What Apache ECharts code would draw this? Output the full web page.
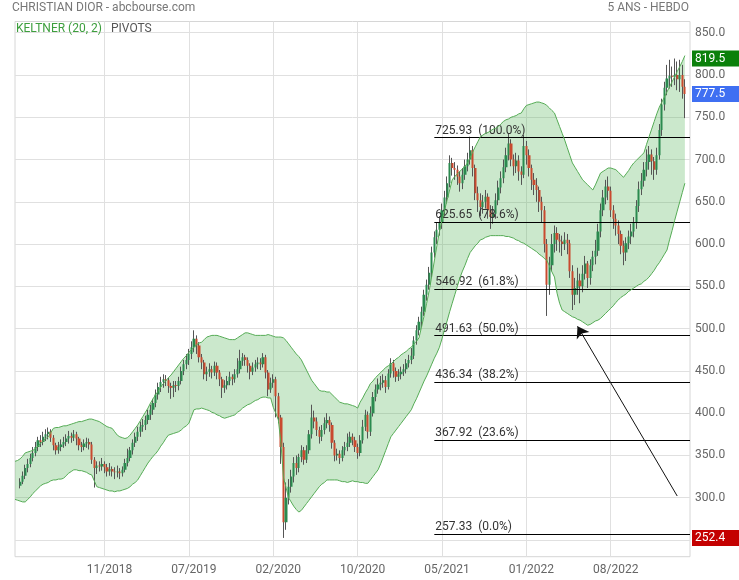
<!DOCTYPE html>
<html><head><meta charset="utf-8">
<script src="https://cdn.jsdelivr.net/npm/echarts@6/dist/echarts.min.js"></script>
<style>html,body{margin:0;padding:0;background:#fff}#c{width:739px;height:580px}</style>
</head><body><div id="c"></div>
<script>
// ---------------- DATA ----------------
const FIRST_WEEK = '2018-03-12';      // first category (two leading weeks before the first candle)
const CATEGORY_COUNT = 265;
const CANDLE_OFFSET = 2;
const xLabelCats = [35, 68, 101, 134, 167, 200, 233];

// weekly candles [open, close, low, high]
const candles = [
[314,319,311,323],[319,326,316,331],[326,335,322,339],[335,340,330,346],[340,347,336,352],[347,353,343,360],[353,360,349,366],[360,368,355,372],[368,366,360,374],[366,372,362,378],
[372,375,367,381],[375,378,369,383],[378,371,366,381],[371,362,356,374],[362,356,351,365],[356,360,352,366],[360,363,355,369],[363,366,359,372],[366,370,361,375],[370,373,364,379],
[373,371,365,377],[371,375,367,380],[375,370,362,378],[370,362,356,372],[362,360,354,366],[360,364,356,369],[364,366,359,371],[366,363,357,370],[363,345,340,366],[345,335,312,348],
[335,338,328,343],[338,337,331,343],[337,340,332,347],[340,336,329,343],[336,331,325,340],[331,334,326,341],[334,331,325,337],[331,330,322,336],[330,331,324,338],[331,329,322,335],
[329,333,325,337],[333,341,330,346],[341,347,337,358],[347,356,343,360],[356,365,351,369],[365,372,360,377],[372,378,367,384],[378,384,372,390],[384,386,378,393],[386,392,380,397],
[392,398,387,404],[398,404,392,410],[404,412,398,417],[412,422,407,428],[422,431,416,436],[431,437,425,443],[437,440,430,446],[440,439,432,445],[439,432,424,442],[432,430,417,436],
[430,433,419,438],[433,432,425,438],[432,438,427,443],[438,450,434,455],[450,458,445,463],[458,463,452,470],[463,470,457,476],[470,478,464,485],[478,488,472,498],[488,480,470,492],
[480,466,460,484],[466,460,452,470],[460,446,440,463],[446,449,438,455],[449,452,443,459],[452,448,441,456],[448,456,444,461],[456,448,440,460],[448,440,432,451],[440,430,418,443],
[430,433,424,439],[433,438,428,444],[438,443,433,449],[443,440,433,446],[440,446,436,452],[446,452,442,465],[452,462,447,475],[462,466,456,471],[466,463,456,469],[463,456,448,466],
[456,449,440,459],[449,454,445,460],[454,458,449,463],[458,460,452,466],[460,458,451,465],[458,466,454,471],[466,448,441,469],[448,428,420,451],[428,436,424,442],[436,440,430,446],
[440,420,395,443],[420,395,388,424],[395,360,340,398],[360,271,252.4,365],[271,300,262,318],[300,313,292,322],[313,325,306,333],[325,341,318,348],[341,335,327,350],[335,348,330,352],
[348,356,342,362],[356,345,339,360],[345,356,341,362],[356,375,352,380],[375,395,370,410],[395,390,382,403],[390,380,373,395],[380,372,364,384],[372,380,367,386],[380,388,375,395],
[388,392,382,400],[392,386,378,396],[386,365,358,389],[365,350,343,368],[350,352,344,358],[352,347,340,356],[347,356,343,361],[356,360,350,366],[360,365,355,376],[365,372,360,378],
[372,368,362,376],[368,360,354,372],[360,353,346,364],[353,368,349,374],[368,384,364,392],[384,398,379,404],[398,378,370,402],[378,400,373,408],[400,419,396,425],[419,428,414,434],
[428,434,423,441],[434,436,427,444],[436,439,430,446],[439,431,424,444],[431,447,428,452],[447,459,442,465],[459,450,442,463],[450,443,437,454],[443,446,438,452],[446,449,440,455],
[449,452,444,458],[452,459,447,464],[459,463,454,469],[463,468,458,477],[468,486,464,491],[486,498,481,504],[498,508,492,514],[508,520,502,526],[520,540,515,546],[540,552,533,558],
[552,566,546,573],[566,590,561,597],[590,608,584,615],[608,617,600,626],[617,625,610,633],[625,640,618,648],[640,655,634,663],[655,672,648,680],[672,696,667,705],[696,690,681,702],
[690,688,676,697],[688,680,670,693],[680,672,662,686],[672,682,665,690],[682,692,676,700],[692,700,686,708],[700,711,694,727],[711,690,680,716],[690,660,652,694],[660,652,638,668],
[652,644,633,660],[644,650,636,658],[650,656,642,664],[656,640,630,660],[640,632,618,646],[632,636,624,645],[636,652,630,660],[652,667,646,675],[667,678,660,686],[678,691,672,700],
[691,705,685,714],[705,719,699,731],[719,700,692,724],[700,692,681,706],[692,699,684,708],[699,686,675,705],[686,682,670,692],[682,716,678,729],[716,705,694,722],[705,690,680,712],
[690,676,664,694],[676,670,658,684],[670,664,650,678],[664,650,638,668],[650,640,625,656],[640,600,590,645],[600,552,515,606],[552,575,540,585],[575,600,568,612],[600,613,590,622],
[613,605,592,620],[605,603,590,612],[603,600,586,610],[600,605,593,614],[605,601,588,612],[601,568,560,605],[568,540,522,575],[540,548,528,560],[548,557,540,572],[557,550,530,565],
[550,565,543,575],[565,577,558,586],[577,560,548,580],[560,575,552,582],[575,585,568,592],[585,592,576,605],[592,615,586,624],[615,640,608,648],[640,655,633,664],[655,668,647,676],
[668,663,652,680],[663,640,632,668],[640,630,618,646],[630,622,610,636],[622,612,600,628],[612,598,588,616],[598,590,575,604],[590,601,580,608],[601,609,594,616],[609,615,600,624],
[615,625,608,632],[625,645,618,652],[645,665,638,674],[665,675,658,684],[675,688,668,697],[688,697,680,712],[697,706,688,716],[706,698,682,712],[698,688,676,703],[688,705,682,714],
[705,735,700,742],[735,765,728,772],[765,785,758,792],[785,796,776,812],[796,799,784,818],[799,798,786,810],[798,800,788,819.5],[800,795,782,816],[795,800,780,818],[800,786,772,812],
[786,777.5,749,795]
];

// Keltner (20, 2) channel, one value per category from the first category
const keltnerUpper = [
343,344,346,349,353,354,355,356,358,361,
364,367,370,372,377,382,383,383,384,385,
385,386,387,388,389,390,390,391,392,393,
393,392,391,390,388,386,384,383,382,378,
374,372,371,370,371,374,378,382,386,391,
396,401,406,412,417,422,426,431,435,438,
442,445,449,453,457,461,465,468,472,475,
478,481,483,484,487,490,491,492,492,492,
491,490,489,488,487,487,487,489,491,493,
495,495,494,493,492,492,492,492,492,493,
492,491,490,490,490,489,486,482,478,474,
470,467,463,457,451,445,439,435,431,427,
426,426,425,425,422,419,416,413,412,411,
411,410,409,408,406,413,418,424,429,435,
438,442,445,448,451,454,456,458,461,464,
466,469,471,473,476,478,482,485,489,502,
515,530,545,562,580,598,615,628,640,652,
664,676,680,683,686,689,692,696,702,709,
715,721,727,729,731,732,734,736,737,739,
742,745,747,748,750,751,752,754,755,760,
764,765,766,767,768,768,767,766,764,761,
758,755,747,739,731,723,714,705,696,691,
686,681,676,673,670,667,664,670,677,684,
686,688,690,690,689,688,685,682,679,683,
687,692,696,699,702,705,708,718,727,736,
745,754,762,768,774,780,786,792,798,804,
810,816,823
];
const keltnerLower = [
298,297,296,295,295,298,301,305,308,311,
314,316,317,318,320,321,321,322,322,323,
326,329,331,333,333,332,332,331,330,328,
327,320,313,312,311,310,309,308,308,307,
308,308,309,310,311,313,316,318,321,326,
331,336,341,345,349,352,356,361,365,370,
374,375,376,377,378,380,383,385,388,396,
404,405,405,406,405,404,403,401,400,398,
397,395,394,395,396,397,398,401,403,406,
408,410,411,413,415,416,418,419,419,418,
418,407,400,392,365,324,312,300,295,290,
286,283,285,289,293,297,301,305,309,313,
316,318,321,321,321,321,321,320,319,319,
318,319,320,319,319,318,318,317,317,321,
325,329,333,340,348,356,364,372,376,380,
384,388,392,396,400,404,411,417,424,431,
438,444,451,458,465,471,478,488,499,509,
520,530,540,550,560,568,575,583,590,594,
598,601,605,606,608,609,610,610,610,610,
610,610,609,609,608,607,605,604,602,601,
599,597,595,593,591,588,586,583,581,574,
567,561,542,530,522,520,518,516,514,513,
511,510,508,506,504,505,507,509,510,512,
515,518,521,524,527,531,534,537,539,541,
544,546,548,550,552,553,556,558,561,565,
569,574,578,583,588,593,605,616,628,639,
650,661,672
];

// Fibonacci retracement levels
const fibLevels   = [725.93, 625.65, 546.92, 491.63, 436.34, 367.92, 257.33];
const fibPercents = ['100.0%', '78.6%', '61.8%', '50.0%', '38.2%', '23.6%', '0.0%'];
const FIB_START_CAT = 164;

// price tags on the right axis
const tagValues = [819.5, 777.5, 252.4];
const tagColors = ['#0b800b', '#3f6ff2', '#c40000'];

// arrow annotation [category, price]
const arrowFrom = [259, 302];
const arrowTo   = [220, 502.7];

// y axis ticks
const Y_TICK_MIN = 250, Y_TICK_MAX = 850, Y_TICK_STEP = 50;

// ---------------- BUILD ----------------
const categories = [];
const t0 = Date.parse(FIRST_WEEK + 'T00:00:00Z');
for (let i = 0; i < CATEGORY_COUNT; i++) {
  categories.push(new Date(t0 + i * 7 * 86400000).toISOString().slice(0, 10));
}
const candleData = candles.map((r, i) => [i + CANDLE_OFFSET, r[0], r[1], r[2], r[3]]);
const bandDiff = keltnerUpper.map((u, i) => +(u - keltnerLower[i]).toFixed(2));

const W = 739, H = 580;
const G = {left: 15, right: 49, top: 21.5, bottom: 23.3};
const DATA_MIN = 230.2, DATA_MAX = 863.3;
const plotH = H - G.top - G.bottom;
const pxPer = plotH / (DATA_MAX - DATA_MIN);
const g1Top = G.top + (DATA_MAX - Y_TICK_MAX) * pxPer;
const g1Bottom = G.bottom + (Y_TICK_MIN - DATA_MIN) * pxPer;

const showCat = (idx) => xLabelCats.indexOf(idx) >= 0;
const FONT = 'Roboto';
const GREEN_LINE = '#55ab55';

const option = {
  animation: false,
  textStyle: {fontFamily: FONT},
  title: [
    {text: 'CHRISTIAN DIOR - abcbourse.com', left: 12, top: 2, padding: 0,
     textStyle: {fontSize: 12, fontWeight: 'normal', color: '#777', fontFamily: FONT}},
    {text: '5 ANS - HEBDO', right: 50, top: 2, padding: 0,
     textStyle: {fontSize: 12, fontWeight: 'normal', color: '#777', fontFamily: FONT}},
    {text: 'KELTNER (20, 2)', left: 16, top: 23, padding: 0,
     textStyle: {fontSize: 12, fontWeight: 'normal', color: '#3d9e3d', fontFamily: FONT}},
    {text: 'PIVOTS', left: 111, top: 23, padding: 0,
     textStyle: {fontSize: 12, fontWeight: 'normal', color: '#555', fontFamily: FONT}}
  ],
  grid: [
    {left: G.left, right: G.right, top: G.top, bottom: G.bottom, show: true,
     borderColor: '#d6d6d6', borderWidth: 1, backgroundColor: 'transparent'},
    {left: G.left, right: G.right, top: g1Top, bottom: g1Bottom, show: false}
  ],
  xAxis: [
    {type: 'category', gridIndex: 0, data: categories, boundaryGap: false,
     axisLine: {show: false}, axisTick: {show: false},
     axisLabel: {interval: showCat,
       color: '#666', fontSize: 12, margin: 7, padding: [0, 0, 0, 10],
       formatter: v => v.slice(5, 7) + '/' + v.slice(0, 4)},
     splitLine: {show: true, interval: showCat, lineStyle: {color: '#e0e0e0', width: 1}}},
    {type: 'value', gridIndex: 1, show: false, min: 0, max: 1}
  ],
  yAxis: [
    {type: 'value', gridIndex: 0, min: DATA_MIN, max: DATA_MAX, show: false, splitLine: {show: false}},
    {type: 'value', gridIndex: 1, position: 'right', min: Y_TICK_MIN, max: Y_TICK_MAX, interval: Y_TICK_STEP,
     axisLine: {show: false}, axisTick: {show: false},
     axisLabel: {color: '#666', fontSize: 12, margin: 5, formatter: v => v.toFixed(1)},
     splitLine: {show: true, lineStyle: {color: '#e0e0e0', width: 1}}}
  ],
  series: [
    {name: 'kcBase', type: 'line', xAxisIndex: 0, yAxisIndex: 0, data: keltnerLower, stack: 'kc',
     symbol: 'none', silent: true, lineStyle: {width: 0, opacity: 0}, z: 1},
    {name: 'kcFill', type: 'line', xAxisIndex: 0, yAxisIndex: 0, data: bandDiff, stack: 'kc',
     symbol: 'none', silent: true, lineStyle: {width: 0, opacity: 0},
     areaStyle: {color: 'rgba(76,175,80,0.29)', opacity: 1}, z: 1},
    {name: 'wicks', type: 'candlestick', xAxisIndex: 0, yAxisIndex: 0, data: candleData,
     encode: {x: 0, y: [1, 2, 3, 4]}, barWidth: 1, silent: true,
     itemStyle: {color: '#555', color0: '#555', borderColor: '#555', borderColor0: '#555', borderWidth: 1}, z: 3},
    {name: 'bodies', type: 'candlestick', xAxisIndex: 0, yAxisIndex: 0, data: candleData,
     encode: {x: 0, y: [1, 2, 3, 4]}, barWidth: 2.7, silent: true,
     itemStyle: {color: '#2a8a4f', color0: '#c94a2f', borderColor: '#2a8a4f', borderColor0: '#c94a2f', borderWidth: 0}, z: 4},
    {name: 'kcUpper', type: 'line', xAxisIndex: 0, yAxisIndex: 0, data: keltnerUpper, symbol: 'none', silent: true,
     lineStyle: {color: GREEN_LINE, width: 1}, z: 5},
    {name: 'kcLower', type: 'line', xAxisIndex: 0, yAxisIndex: 0, data: keltnerLower, symbol: 'none', silent: true,
     lineStyle: {color: GREEN_LINE, width: 1}, z: 5},
    {name: 'fib', type: 'line', xAxisIndex: 0, yAxisIndex: 0, data: [], clip: false, z: 6,
     markLine: {silent: true, symbol: ['none', 'none'], animation: false,
       lineStyle: {color: '#000', width: 1, type: 'solid'},
       label: {show: true, position: 'insideStartTop', formatter: '{b}', color: '#333', fontSize: 12, distance: [1, 1], fontFamily: FONT},
       data: fibLevels.map((v, k) => [
         {name: v.toFixed(2) + '  (' + fibPercents[k] + ')', coord: [FIB_START_CAT, v]},
         {coord: [CATEGORY_COUNT - 1, v]}
       ])}},
    {name: 'arrow', type: 'line', xAxisIndex: 0, yAxisIndex: 0, data: [], clip: false, z: 7,
     markLine: {silent: true, symbol: ['none', 'arrow'], symbolSize: 11, animation: false,
       lineStyle: {color: '#111', width: 1, type: 'solid'}, label: {show: false},
       data: [[{coord: arrowFrom}, {coord: arrowTo}]]}},
    {name: 'tags', type: 'line', xAxisIndex: 0, yAxisIndex: 0, data: [], clip: false, z: 8,
     markLine: {silent: true, symbol: ['none', 'none'], animation: false,
       lineStyle: {color: 'rgba(0,0,0,0)', width: 1, opacity: 1},
       data: tagValues.map((v, k) => ({yAxis: v,
         label: {show: true, position: 'end', distance: 2, formatter: v.toFixed(1), opacity: 1,
           backgroundColor: tagColors[k], color: '#fff', fontSize: 12, lineHeight: 14,
           padding: [1, 14, 1, 3], fontFamily: FONT}}))}}
  ]
};

const chart = echarts.init(document.getElementById('c'));
chart.setOption(option);
</script>
</body></html>
